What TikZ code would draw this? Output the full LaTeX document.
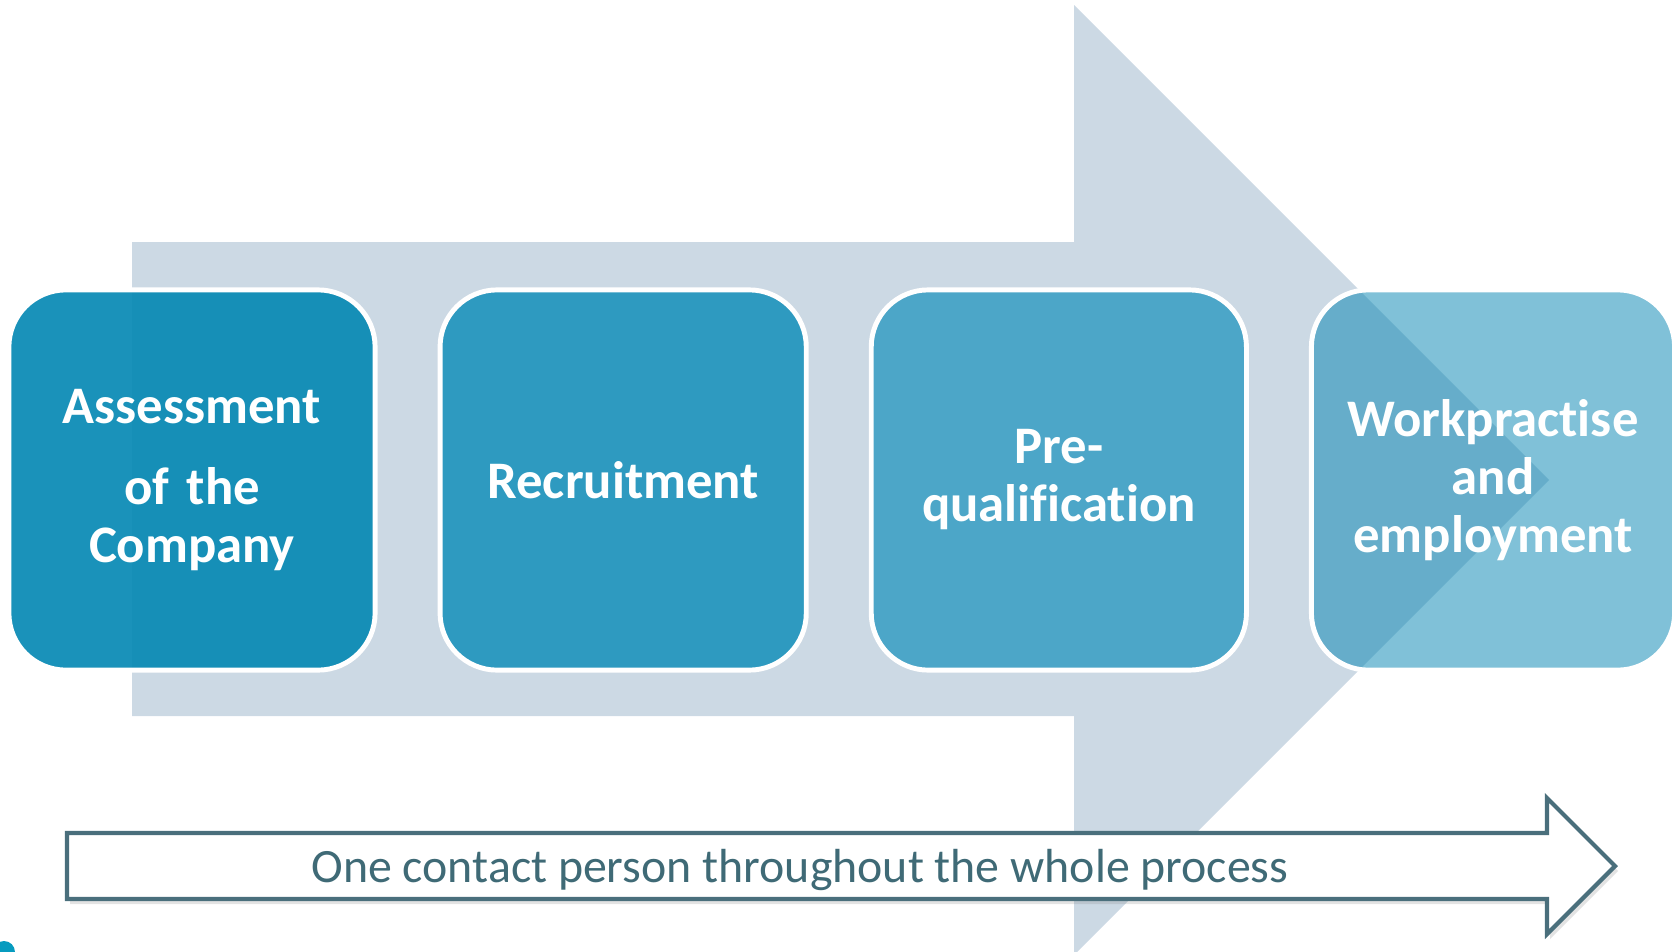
\documentclass[tikz,border=0pt]{standalone}
\usepackage{fontspec}
\setmainfont{Carlito}[Ligatures=CommonOff]
\usetikzlibrary{positioning,shadows}

\definecolor{flowgrey}{HTML}{CCD9E4}
\definecolor{stageone}{RGB}{7,137,180}
\definecolor{stagetwo}{HTML}{2E9AC0}
\definecolor{stagethree}{HTML}{4CA6C8}
\definecolor{stagefour}{RGB}{1,131,177}
\definecolor{slate}{HTML}{4A6F7C}
\definecolor{slatetext}{HTML}{3F6A76}

\tikzset{
  stage/.style={draw=white,line width=1.4pt,rounded corners=0.57cm,
    minimum height=3.8cm,text width=3.4cm,align=center,inner sep=0pt,
    text=white,text opacity=1,font=\fontsize{15}{16.5}\selectfont\bfseries},
  contactarrow/.style={draw=slate,fill=white,line width=1.2pt,miter limit=10,
    drop shadow={opacity=0.22,shadow xshift=0.03cm,shadow yshift=-0.05cm}}
}

\begin{document}
\begin{tikzpicture}[x=0.01cm,y=-0.01cm,node distance=0.6cm]
\useasboundingbox (0,0) rectangle (1675,951);

% wide arrow behind the four stages
\fill[flowgrey] (132,242) -- (1074,242) -- (1074,5) -- (1549,480)
  -- (1074,955) -- (1074,716) -- (132,716) -- cycle;

\node[stage,fill=stageone,fill opacity=0.92,minimum width=3.66cm] (assess) at (192,480)
  {Assessment\\[6.5pt]of the\\Company};
\node[stage,fill=stagetwo,minimum width=3.66cm,right=of assess] (recruit) {Recruitment};
\node[stage,fill=stagethree,minimum width=3.75cm,right=of recruit] (prequal) {Pre-\\qualification};
\node[stage,fill=stagefour,fill opacity=0.5,minimum width=3.63cm,right=of prequal] (employ)
  {Workpractise\\and\\employment};

% contact person arrow
\coordinate (tail) at (67,866);
\coordinate (tip) at (1615,866);
\draw[contactarrow] (tail) ++(0,-33) -- (1547,833) -- (1547,798) -- (tip)
  -- (1547,934) -- (1547,899) -- (67,899) -- cycle;
\node[anchor=base,text=slatetext,font=\fontsize{13.6}{16}\selectfont] (contact) at (800,882)
  {One contact person throughout the whole process};

\fill[stageone!85!cyan] (4,952) circle (11);
\end{tikzpicture}
\end{document}
